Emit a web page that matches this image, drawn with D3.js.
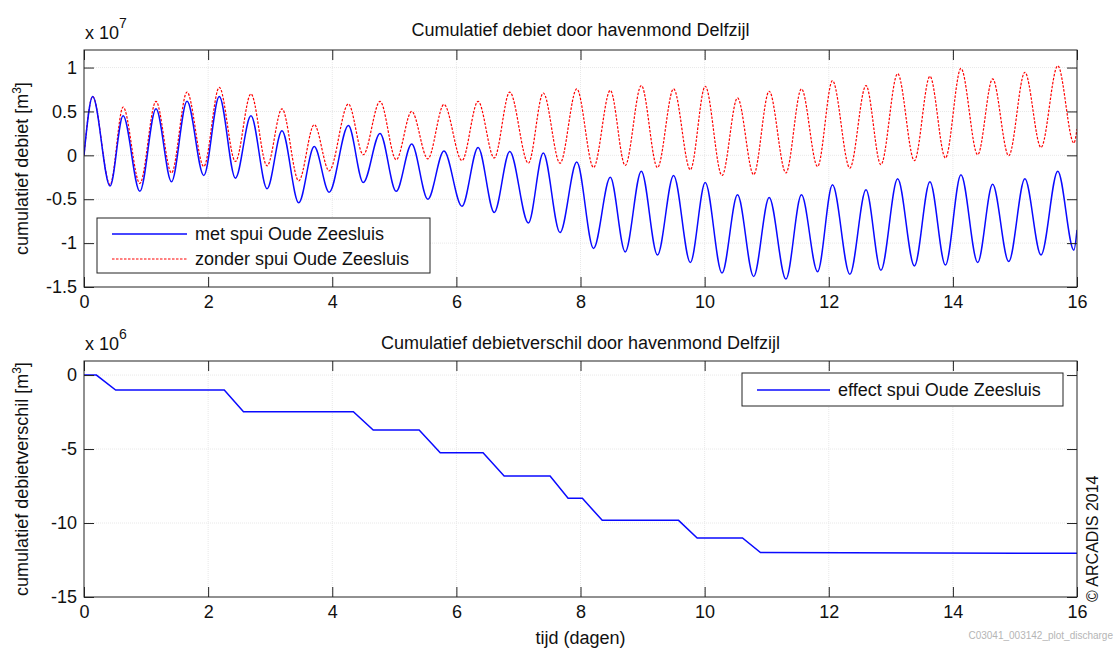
<!DOCTYPE html>
<html>
<head>
<meta charset="utf-8">
<script src="https://cdn.jsdelivr.net/npm/d3@7"></script>
<style>
  html, body { margin: 0; padding: 0; background: #fff; }
  svg { display: block; font-family: "Liberation Sans", Arial, Helvetica, sans-serif; }
</style>
</head>
<body>
<svg id="chart" width="1118" height="653"></svg>
<script>
// ---------- data ----------
// top panel: times (days) of the tidal extremes, values in 1e7 m3
const tijdTop = [0,
  0.14, 0.42, 0.63, 0.90, 1.16, 1.41, 1.66, 1.93, 2.18, 2.44, 2.69, 2.95, 3.19, 3.46, 3.71, 3.95,
  4.26, 4.50, 4.77, 5.03, 5.28, 5.54, 5.80, 6.09, 6.35, 6.61, 6.86, 7.16, 7.40, 7.67, 7.94, 8.21,
  8.48, 8.72, 8.98, 9.24, 9.50, 9.77, 10.01, 10.28, 10.53, 10.79, 11.04, 11.31, 11.56, 11.82,
  12.06, 12.34, 12.60, 12.84, 13.11, 13.38, 13.63, 13.88, 14.13, 14.40, 14.64, 14.90, 15.16, 15.42,
  15.69, 15.95, 16.0];
const metSpui = [0,
  0.67, -0.35, 0.45, -0.41, 0.53, -0.30, 0.615, -0.23, 0.67, -0.26, 0.45, -0.38, 0.28, -0.54, 0.10, -0.42,
  0.34, -0.31, 0.25, -0.41, 0.13, -0.50, 0.05, -0.58, 0.09, -0.65, 0.045, -0.77, 0.026, -0.88, -0.077, -1.06,
  -0.25, -1.10, -0.18, -1.135, -0.23, -1.22, -0.31, -1.34, -0.45, -1.38, -0.48, -1.41, -0.45, -1.325,
  -0.336, -1.355, -0.393, -1.31, -0.267, -1.26, -0.30, -1.25, -0.22, -1.22, -0.33, -1.21, -0.267, -1.135,
  -0.18, -1.08, -0.85];
const zonderSpui = [0,
  0.67, -0.336, 0.55, -0.32, 0.615, -0.20, 0.72, -0.127, 0.775, -0.07, 0.70, -0.12, 0.53, -0.29, 0.35, -0.176,
  0.585, 0.007, 0.615, -0.05, 0.50, -0.04, 0.58, -0.06, 0.615, -0.03, 0.72, -0.09, 0.71, -0.09, 0.757, -0.138,
  0.74, -0.115, 0.795, -0.14, 0.757, -0.164, 0.787, -0.23, 0.654, -0.22, 0.73, -0.20, 0.757, -0.127,
  0.85, -0.145, 0.795, -0.107, 0.93, -0.06, 0.90, -0.03, 0.99, 0.007, 0.87, -0.005, 0.946, 0.09,
  1.02, 0.14, 0.30];

// bottom panel: cumulative difference, values in 1e6 m3
const tijdVerschil = [0, 0.2, 0.51, 2.26, 2.57, 4.34, 4.66, 5.40, 5.74, 6.43, 6.77, 7.51, 7.80, 8.03, 8.35, 9.58, 9.88, 10.61, 10.90, 16];
const verschil = [0, 0, -1.01, -1.01, -2.48, -2.48, -3.72, -3.72, -5.25, -5.25, -6.82, -6.82, -8.33, -8.33, -9.82, -9.82, -11.01, -11.01, -12.0, -12.05];

const xTicks = [0, 2, 4, 6, 8, 10, 12, 14, 16];
const yTicksTop = [-1.5, -1, -0.5, 0, 0.5, 1];
const yTicksBottom = [-15, -10, -5, 0];

const titleTop = "Cumulatief debiet door havenmond Delfzijl";
const titleBottom = "Cumulatief debietverschil door havenmond Delfzijl";
const legendTop = ["met spui Oude Zeesluis", "zonder spui Oude Zeesluis"];
const legendBottom = ["effect spui Oude Zeesluis"];

// ---------- drawing ----------
const svg = d3.select("#chart");
const L = 84, R = 1077;
const top1 = 50, bot1 = 287, top2 = 361, bot2 = 597;
const FS = 18;
const blue = "#0a0aff", red = "#ff0000";

const x = d3.scaleLinear().domain([0, 16]).range([L, R]);
const yTop = d3.scaleLinear().domain([-1.5, 1.2]).range([bot1, top1]);
const yBot = d3.scaleLinear().domain([-15, 0.95]).range([bot2, top2]);

// MATLAB-style number labels with an ASCII hyphen as minus sign
const fmtNum = d => String(d);

function panel(y, yTicks, t, b) {
  const g = svg.append("g");
  g.append("g").selectAll("line").data(xTicks.slice(1, -1)).join("line")
    .attr("x1", d => x(d)).attr("x2", d => x(d)).attr("y1", t).attr("y2", b)
    .attr("stroke", "#e8e8e8").attr("stroke-width", 1).attr("stroke-dasharray", "1,1");
  g.append("g").selectAll("line").data(yTicks.filter(v => y(v) > t + 2 && y(v) < b - 2)).join("line")
    .attr("x1", L).attr("x2", R).attr("y1", d => y(d)).attr("y2", d => y(d))
    .attr("stroke", "#e8e8e8").attr("stroke-width", 1).attr("stroke-dasharray", "1,1");
  return g;
}

function axes(y, yTicks, t, b) {
  const style = sel => {
    sel.select(".domain").remove();
    sel.selectAll("line").attr("stroke", "#222");
    sel.selectAll("text").attr("font-size", FS).attr("fill", "#111")
      .attr("font-family", "'Liberation Sans', Arial, sans-serif");
  };
  svg.append("g").attr("transform", `translate(0,${b})`)
    .call(d3.axisBottom(x).tickValues(xTicks).tickSize(-10).tickPadding(8).tickFormat(fmtNum))
    .call(style);
  svg.append("g").attr("transform", `translate(0,${t})`)
    .call(d3.axisTop(x).tickValues(xTicks).tickSize(-10).tickFormat(""))
    .call(style);
  svg.append("g").attr("transform", `translate(${L},0)`)
    .call(d3.axisLeft(y).tickValues(yTicks).tickSize(-10).tickPadding(7).tickFormat(fmtNum))
    .call(style);
  svg.append("g").attr("transform", `translate(${R},0)`)
    .call(d3.axisRight(y).tickValues(yTicks).tickSize(-10).tickFormat(""))
    .call(style);
  svg.append("rect").attr("x", L).attr("y", t).attr("width", R - L).attr("height", b - t)
    .attr("fill", "none").attr("stroke", "#222").attr("stroke-width", 1);
}

// ----- top panel -----
panel(yTop, yTicksTop, top1, bot1);
svg.append("clipPath").attr("id", "c1").append("rect")
  .attr("x", L).attr("y", top1).attr("width", R - L).attr("height", bot1 - top1);

const lineTop = vals => d3.line()
  .x((d, i) => x(tijdTop[i])).y(d => yTop(d))
  .curve(d3.curveMonotoneX)(vals);

svg.append("path").attr("d", lineTop(zonderSpui)).attr("clip-path", "url(#c1)")
  .attr("fill", "none").attr("stroke", red).attr("stroke-width", 1.2).attr("stroke-dasharray", "2.5,1.5");
svg.append("path").attr("d", lineTop(metSpui)).attr("clip-path", "url(#c1)")
  .attr("fill", "none").attr("stroke", blue).attr("stroke-width", 1.5);

axes(yTop, yTicksTop, top1, bot1);

// legend top
const lg1 = svg.append("g");
lg1.append("rect").attr("x", 97).attr("y", 218).attr("width", 333).attr("height", 55)
  .attr("fill", "#fff").attr("stroke", "#222");
[[blue, null, 234, 1.5], [red, "2.5,1.5", 259, 1.2]].forEach((s, i) => {
  lg1.append("line").attr("x1", 112).attr("x2", 187).attr("y1", s[2]).attr("y2", s[2])
    .attr("stroke", s[0]).attr("stroke-width", s[3]).attr("stroke-dasharray", s[1]);
  lg1.append("text").attr("x", 195).attr("y", s[2]).attr("dy", "0.35em")
    .attr("font-size", FS).attr("fill", "#111").text(legendTop[i]);
});

// ----- bottom panel -----
panel(yBot, yTicksBottom, top2, bot2);
const lineBot = d3.line().x((d, i) => x(tijdVerschil[i])).y(d => yBot(d));
svg.append("path").attr("d", lineBot(verschil))
  .attr("fill", "none").attr("stroke", blue).attr("stroke-width", 1.5);
axes(yBot, yTicksBottom, top2, bot2);

const lg2 = svg.append("g");
lg2.append("rect").attr("x", 742).attr("y", 373).attr("width", 321).attr("height", 33)
  .attr("fill", "#fff").attr("stroke", "#222");
lg2.append("line").attr("x1", 757).attr("x2", 830).attr("y1", 390).attr("y2", 390)
  .attr("stroke", blue).attr("stroke-width", 1.5);
lg2.append("text").attr("x", 838).attr("y", 390).attr("dy", "0.35em")
  .attr("font-size", FS).attr("fill", "#111").text(legendBottom[0]);

// ----- titles & labels -----
const cx = (L + R) / 2;
svg.append("text").attr("x", cx).attr("y", 36).attr("text-anchor", "middle")
  .attr("font-size", FS).attr("fill", "#111").text(titleTop);
svg.append("text").attr("x", cx).attr("y", 349).attr("text-anchor", "middle")
  .attr("font-size", FS).attr("fill", "#111").text(titleBottom);

function expo(xp, yb, e) {
  const t = svg.append("text").attr("x", xp).attr("y", yb).attr("font-size", FS).attr("fill", "#111");
  t.append("tspan").text("x 10");
  t.append("tspan").attr("dy", -11).attr("font-size", 14).text(e);
}
expo(85, 39, "7");
expo(85, 350, "6");

function ylab(xp, yc, txt) {
  const t = svg.append("text").attr("transform", `translate(${xp},${yc}) rotate(-90)`)
    .attr("text-anchor", "middle").attr("font-size", FS).attr("fill", "#111");
  t.append("tspan").text(txt + " [m");
  t.append("tspan").attr("dy", -7).attr("font-size", 12).text("3");
  t.append("tspan").attr("dy", 7).text("]");
}
ylab(28, (top1 + bot1) / 2, "cumulatief debiet");
ylab(28, (top2 + bot2) / 2, "cumulatief debietverschil");

svg.append("text").attr("x", cx).attr("y", 644).attr("text-anchor", "middle")
  .attr("font-size", FS).attr("fill", "#111").text("tijd (dagen)");

svg.append("text").attr("transform", "translate(1098,602) rotate(-90)")
  .attr("font-size", 16).attr("fill", "#111").text("© ARCADIS 2014");

svg.append("text").attr("x", 1113).attr("y", 639).attr("text-anchor", "end")
  .attr("font-size", 10).attr("fill", "#b5b5b5").text("C03041_003142_plot_discharge");
</script>
</body>
</html>
